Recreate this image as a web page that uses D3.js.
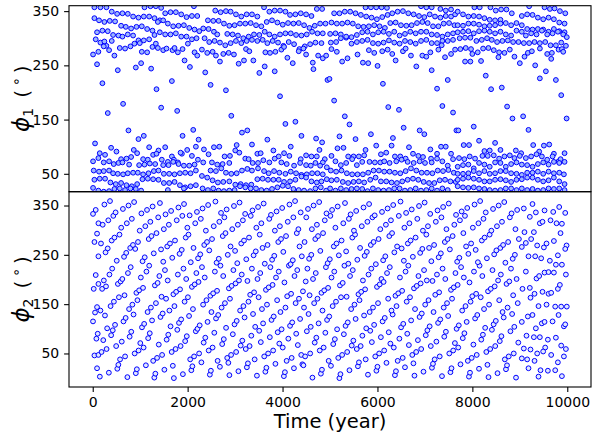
<!DOCTYPE html>
<html><head><meta charset="utf-8">
<script src="https://cdn.jsdelivr.net/npm/d3@7"></script>
<style>body{margin:0;background:#fff}svg{display:block}text{font-family:"DejaVu Sans",sans-serif}</style>
</head><body><svg id="c" width="594" height="433"></svg>
<script>
const xTicks=[0,2000,4000,6000,8000,10000];
const yTicks=[50,150,250,350];
// phi1 (top panel) [year, deg]
const phi1A=[[35,357],[162,357],[288,357],[35,337],[133,333],[246,330],[359,332],[471,331],
[401,349],[514,345],[626,346],[739,345],[851,340],[964,338],[1076,340],[1189,340],[1302,337],[1414,333],[1527,346],[1639,348],[1752,348],[1865,344],[1977,339],[2090,341],[2203,341],
[1091,357],[1217,359],[1330,359],[1442,356],[2132,359],
[91,311],[204,314],[317,313],[429,306],[542,305],[598,323],[697,321],[809,318],[922,321],[1034,322],[1147,317],[1259,314],[1372,330],[1485,333],[1583,327],[1696,322],[1808,323],[1921,324],[2034,319],[2146,316],[2245,313],
[63,298],[162,292],[246,294],[288,286],[401,295],[626,303],[739,307],[851,305],[964,296],[1076,296],[1189,298],[1302,306],[1414,311],[1527,307],[1639,307],[1752,309],[1865,303],[1977,303],[2090,298],[2188,300],
[7,270],[119,275],[232,285],[345,278],[457,268],[570,282],[682,281],[795,285],[879,290],[992,291],[1034,275],[1147,274],[1259,284],[1330,290],[1372,282],[1485,278],[1555,281],[1682,278],[1724,282],[1794,274],[1893,280],[2005,290],[2146,274],[2203,268],
[91,252],[528,241],[908,246],[1020,254],[1231,244],[1935,259],[2048,247],
[204,217],[1344,206],[1668,221],[640,179],[317,162],[1442,172],[1780,166],[753,130],[964,114],[1076,120],[1893,120],[2118,131],[2231,113],
[49,106],[387,98],[500,91],[865,94],[936,88],[1189,99],[1386,93],[1527,99],[1668,82],[1879,87],[1991,94],[2090,83],[2174,100],
[148,88],[260,85],[119,79],[598,77],[711,78],[809,81],[1062,77],[1161,76],[1273,85],[1344,87],[1456,76],[1583,72],[1710,76],[1794,71],[1851,89],
[7,73],[232,71],[345,73],[443,68],[542,70],[626,71],[767,67],[978,66],[1091,67],[1203,69],[1316,68],[1485,66],[1597,66],[1696,72],[1808,68],[1921,65],[2034,65],[2146,67],[2217,76],
[21,56],[133,54],[232,55],[345,56],[429,51],[528,50],[640,49],[739,51],[851,52],[950,52],[1062,49],[1175,51],[1288,55],[1386,56],[1499,50],[1611,50],[1724,49],[1837,51],[1949,52],[2062,51],[2174,56],
[35,39],[148,41],[260,41],[373,34],[485,31],[598,33],[711,29],[823,27],[936,31],[1048,40],[1161,41],[1273,40],[1386,39],[1499,33],[1611,33],[1724,35],[1837,29],[1949,25],[2062,27],[2174,29],
[7,24],[119,19],[232,17],[345,18],[457,22],[570,23],[682,20],[795,23],[908,22],[1020,19],[1583,20],[1921,23]];
const phi1B=[[2582,351],[2695,348],[2807,350],[2906,349],[3018,344],[3131,340],[3244,344],[3356,344],[3469,340],[3610,357],[3722,349],[3835,351],[3947,351],[4060,349],[4158,343],[4271,344],[4384,346],[4496,344],[4609,341],[4722,354],[4834,354],
[2427,333],[2540,332],[2653,332],[2765,327],[2878,323],[2990,324],[3103,327],[3215,327],[3328,328],[3441,324],[3553,322],[3666,330],[3778,333],[3891,329],[4004,325],[4116,328],[4229,327],[4341,328],[4454,324],[4567,319],[4679,323],[4792,327],[4905,327],
[2329,318],[2441,317],[2554,312],[2624,307],[2835,308],[2948,307],[3061,305],[3173,300],[3286,303],[3398,307],[3511,306],[3624,312],[3722,307],[3835,303],[3947,307],[4060,309],[4173,309],[4285,306],[4398,305],[4510,307],[4623,312],[4736,309],[4848,309],
[2357,300],[2455,293],[2568,295],[2681,292],[2793,287],[2906,291],[3018,295],[3131,291],[3244,295],[3356,297],[3469,295],[3581,297],[3680,291],[3792,295],[3905,292],[4018,286],[4130,293],[4243,289],[4355,280],[4468,285],[4581,289],[4693,292],[4820,291],
[2301,279],[2413,273],[2526,275],[2596,268],[2681,257],[2751,271],[2864,273],[2976,270],[3230,280],[3300,276],[3385,259],[3638,274],[3736,273],[3849,275],[3975,279],[4032,284],[4102,264],[4215,254],[4341,276],[4440,281],[4496,270],[4637,255],[4750,268],[4848,263],[4919,268],
[3075,253],[3187,259],[3511,236],[3624,248],[3835,239],[2371,237],[4651,243],[2484,214],[2807,204],[3947,193],[4947,223],[2920,157],[4060,142],[4271,146],[3145,126],[3258,130],[4398,120],[4707,115],[4834,108],
[3680,113],[2343,95],[2554,99],[2667,100],[3033,103],[3356,104],[3807,93],[4173,100],[4496,84],[4778,94],
[2441,86],[2892,83],[2779,82],[3004,93],[3089,89],[3469,87],[3539,88],[3919,82],[4032,88],[4144,83],[4384,77],[4609,82],[4722,82],[4890,77],[4848,71],
[2329,71],[2512,71],[2624,67],[2737,68],[2878,70],[3215,78],[3286,77],[3370,70],[3483,70],[3595,75],[3722,71],[3835,78],[3975,71],[4088,68],[4243,65],[4370,70],[4496,66],[4595,65],[4693,70],[4792,65],[4933,62],
[2484,56],[2596,55],[2709,60],[2807,52],[2920,50],[3033,51],[3145,56],[3258,59],[3356,56],[3483,60],[3610,55],[3708,51],[3821,55],[3933,52],[4060,50],[4173,54],[4285,51],[4398,48],[4510,49],[4623,51],[4736,51],[4848,49],
[2301,46],[2413,43],[2526,38],[2638,34],[2751,35],[2878,36],[3004,30],[3117,31],[3230,29],[3342,30],[3469,40],[3581,41],[3694,39],[3807,39],[3919,39],[4032,35],[4158,36],[4271,39],[4398,45],[4496,43],[4609,36],[4722,34],[4820,36],[4933,40],
[2315,23],[2427,20],[2540,23],[2653,19],[2765,18],[2878,19],[2990,20],[3103,27],[3215,25],[3328,23],[3441,23],[3553,20],[3666,19],[3778,22],[3891,25],[4004,28],[4116,27],[4229,22],[4341,20],[4454,19],[4581,18],[4693,23],[4806,25],[4919,19]];
const phi1C=[[5749,357],[5862,357],[5974,357],[6087,357],[6200,356],[6918,359],[7030,357],[7143,357],[7326,354],[7439,351],[7551,353],
[5087,346],[5200,346],[5312,349],[5425,349],[5538,346],[5650,343],[5763,340],[5876,338],[5988,335],[6101,339],[6214,343],[6312,346],[6425,349],[6537,350],[6650,346],[6763,344],[6875,341],[6988,339],[7101,344],[7213,340],[7326,338],[7439,341],[7551,340],[7636,344],
[5031,329],[5144,327],[5256,327],[5369,329],[5481,327],[5594,322],[5707,321],[5819,322],[5932,324],[6045,322],[6157,319],[6270,328],[6383,329],[6495,324],[6608,323],[6720,324],[6833,328],[6946,330],[7058,328],[7171,322],[7284,322],[7396,327],[7509,328],[7622,324],
[5003,308],[5115,309],[5228,307],[5341,301],[5453,302],[5566,306],[5679,311],[5791,312],[5904,307],[6016,311],[6129,312],[6242,308],[6354,312],[6467,305],[6580,308],[6692,312],[6805,309],[6918,312],[7030,312],[7143,307],[7256,306],[7368,303],[7481,307],[7593,309],
[5017,292],[5129,293],[5228,300],[5341,303],[5453,290],[5566,293],[5679,295],[5791,297],[5904,291],[6016,290],[6129,292],[6242,296],[6354,292],[6467,290],[6580,295],[6692,293],[6805,290],[6918,295],[7030,297],[7143,291],[7256,291],[7368,295],[7481,295],[7593,297],
[5031,280],[5144,275],[5256,257],[5369,263],[5580,270],[5693,255],[5805,254],[5819,278],[5932,273],[6002,249],[6101,276],[6214,279],[6312,271],[6383,259],[6537,276],[6594,281],[6706,268],[6819,248],[6946,268],[7030,266],[7115,274],[7143,241],[7284,279],[7354,287],[7424,265],[7551,271],[7636,279],
[4989,225],[5087,185],[6115,216],[6228,173],[6453,168],[7256,207],[7368,175],[7481,223],[7593,163],[5312,156],[5411,141],[6552,135],[6889,130],[6988,123],[5200,119],[5538,114],[5862,123],[6326,116],[7664,130],
[5158,97],[5284,98],[5749,94],[5974,102],[6298,102],[6664,99],[7115,95],[7340,100],[7439,100],[7551,87],
[5031,83],[5383,82],[5496,82],[5608,82],[5721,84],[6073,86],[6185,89],[6368,82],[6481,82],[6594,78],[6749,87],[6861,83],[6960,81],[7129,78],[7256,87],
[5115,73],[5228,66],[5341,70],[5467,77],[5566,66],[5679,72],[5833,72],[5946,71],[6059,71],[6143,73],[6256,70],[6397,73],[6509,76],[6636,72],[6763,70],[6889,73],[7002,70],[7143,71],[7256,78],[7368,73],[7481,65],[7593,77],
[5017,56],[5129,54],[5242,56],[5355,51],[5467,49],[5580,49],[5693,49],[5805,52],[5918,56],[6031,56],[6143,54],[6256,54],[6368,52],[6481,51],[6594,55],[6706,60],[6819,56],[6932,52],[7044,52],[7157,51],[7270,56],[7382,55],[7495,57],[7608,52],
[5031,38],[5144,39],[5270,35],[5383,33],[5496,35],[5608,36],[5721,34],[5848,39],[5960,43],[6073,36],[6185,36],[6298,34],[6411,33],[6523,36],[6636,39],[6749,41],[6861,39],[6974,35],[7087,33],[7199,33],[7312,38],[7424,39],[7537,36],[7650,35],
[5003,23],[5115,19],[5228,23],[5341,20],[5453,22],[5566,23],[5679,22],[5791,18],[5904,23],[6016,20],[6129,19],[6242,20],[6354,23],[6467,23],[6580,19],[6692,20],[6805,23],[6918,19],[7030,20],[7143,23],[7256,19],[7368,23],[7481,20]];
const phi1D=[[8043,357],[8155,357],[8381,357],[8493,351],[8606,353],[8718,353],[8831,346],[9197,359],[9521,357],[9634,354],[9732,355],[9845,350],[9958,346],
[7691,349],[7803,344],[7916,340],[8029,341],[8141,340],[8254,337],[8366,334],[8479,333],[8592,334],[8704,328],[8817,324],[8930,328],[9042,341],[9155,344],[9268,343],[9380,338],[9493,335],[9606,338],[9718,335],[9831,329],[9943,327],
[7691,324],[7803,323],[7916,327],[8029,327],[8141,325],[8254,322],[8366,323],[8479,324],[8592,327],[9042,324],[9155,317],[9268,316],[9380,317],[9493,316],[9606,312],[9718,317],[9831,313],[9943,311],
[7691,311],[7803,312],[7916,313],[8029,309],[8141,313],[8254,314],[8366,312],[8479,309],[8592,312],[8704,307],[8817,305],[8930,314],[9042,312],[9127,305],[9239,309],[9352,307],[9465,314],[9577,307],[9690,309],[9803,312],[9915,307],[9990,302],
[7733,300],[7846,301],[7958,301],[8085,295],[8198,297],[8310,300],[8409,297],[8521,293],[8634,295],[8747,296],[8859,293],[8972,293],[9085,291],[9197,291],[9310,293],[9422,291],[9535,293],[9648,287],[9760,287],[9873,292],[9972,286],
[7747,280],[7860,282],[7972,280],[8000,271],[8113,274],[8226,281],[8338,282],[8451,278],[8564,274],[8676,273],[8789,279],[8887,266],[9000,254],[9099,266],[9169,273],[9254,276],[9324,250],[9423,281],[9577,271],[9676,273],[9662,262],[9817,279],[9887,280],[9915,275],
[7846,257],[7958,257],[8183,258],[8549,265],
[8282,231],[8395,206],[8620,209],[9422,226],[9549,239],[9760,223],[9873,195],[8732,174],[8845,152],[9070,156],[9183,131],[9986,152],[7705,130],[8029,137],[8141,111],
[7817,103],[7930,103],[8254,92],[8366,93],[8479,107],[8592,94],[8916,93],[9028,88],[9282,103],[9408,91],[9507,102],[9620,104],[9718,87],[9943,88],
[7719,79],[7831,77],[7944,82],[8057,78],[8212,83],[8324,83],[8451,84],[8564,78],[8676,82],[8789,84],[8887,79],[9000,83],[9127,79],[9239,82],[9352,86],[9465,82],[9577,76],[9690,82],[9817,73],[9859,77],
[7691,63],[7803,66],[7916,67],[8029,60],[8141,70],[8254,67],[8366,63],[8479,71],[8592,70],[8704,63],[8817,68],[8930,71],[9042,67],[9155,66],[9268,63],[9380,68],[9493,71],[9606,67],[9718,72],[9831,70],[9943,72],
[7691,50],[7803,50],[7916,51],[8029,55],[8141,51],[8254,55],[8366,50],[8479,51],[8592,55],[8704,55],[8817,51],[8930,50],[9042,48],[9155,52],[9268,52],[9380,54],[9493,50],[9606,54],[9718,51],[9831,52],[9929,49],
[7691,39],[7803,41],[7916,43],[8029,41],[8141,39],[8254,36],[8366,36],[8479,39],[8592,40],[8704,38],[8817,35],[8930,39],[9042,40],[9155,43],[9268,43],[9380,39],[9493,36],[9606,38],[9718,43],[9831,36],[9943,31],
[7691,27],[7803,25],[7916,24],[8029,25],[8141,23],[8254,22],[8366,20],[8479,19],[8592,20],[8704,23],[8817,23],[8930,20],[9042,23],[9155,20],[9268,22],[9380,19],[9493,20],[9606,23],[9718,22],[9831,23],[9943,20]];
// phi2 (bottom panel) [year, deg] read at the panel edges
const phi2Left=[[6,333],[63,341],[120,314],[36,276],[91,293],[120,247],[63,209],[21,181],[120,191],[91,144],[49,133],[6,115],[105,90],[77,80],[36,46],[120,47],[91,20]];
const phi2Right=[[9084,344],[9267,353],[9338,336],[9521,340],[9704,337],[9830,347],[9957,335],[9211,327],[9422,314],[9478,317],[9647,320],[9774,314],[9887,313],[9296,296],[9098,296],[9858,294],[9239,282],[9127,274],[9366,269],[9507,265],[9563,273],[9718,278],[9985,269],[9957,262],[9042,266],[9183,247],[9324,247],[9450,243],[9633,238],[9802,249],[9760,230],[9887,230],[9127,216],[9352,202],[9408,207],[9521,214],[9605,215],[9718,214],[9971,210],
[9056,181],[9211,183],[9478,175],[9605,171],[9661,173],[9802,181],[9844,189],[9225,163],[9310,171],[9394,146],[9563,149],[9746,145],[9872,145],[9990,145],[9042,114],[9169,125],[9267,128],[9338,101],[9464,111],[9521,114],[9690,115],[9816,128],[9929,105],[9957,109],[9141,86],[9296,83],[9422,83],[9591,78],[9760,82],[9872,66],[9971,59],[9084,60],[9225,58],[9366,50],[9535,62],[9492,54],[9661,47],[9802,32],[9929,44],[9042,40],[9155,38],[9183,20],[9310,35],[9394,3],[9436,16],[9591,15],[9746,16],[9887,4]];
// phi2 middle: columns [startYear, eleven angle estimates]; sample offsets within a column (years)
const colOffsetsA=[0,36,72,108,12,48,84,120,24,60,96];
const colOffsetsB=[60,12,108,24,96,0,72,36,120,48,84];
const colOffsetsC=[108,84,12,60,36,120,0,96,48,24,72];
const phi2Cols=[
[150,3,53,77,127,137,181,198,255,273,311,352],
[280,11,59,87,101,146,186,210,263,279,320,359],
[410,19,65,97,108,155,191,222,238,285,329,336],
[540,27,38,74,115,164,196,201,246,291,305,343],
[670,2,44,84,122,140,168,213,254,264,314,350],
[800,10,50,94,129,149,173,225,262,270,323,357],
[930,18,56,71,103,158,178,204,237,276,299,334],
[1060,26,62,81,110,134,183,216,245,282,308,341],
[1190,1,35,91,117,143,188,228,253,288,317,348],
[1320,9,41,68,124,152,193,207,261,294,326,355],
[1450,17,47,78,131,161,165,219,236,267,302,332],
[1580,25,53,88,105,137,170,198,244,273,311,339],
[1710,0,59,98,112,146,175,210,252,279,320,346],
[1840,8,65,75,119,155,180,222,260,285,329,353],
[1970,16,38,85,126,164,185,201,235,291,305,330],
[2100,24,44,95,100,140,190,213,243,264,314,337],
[2230,32,50,72,107,149,195,225,251,270,323,344],
[2360,7,56,82,114,158,167,204,259,276,299,351],
[2490,15,62,92,121,134,172,216,234,282,308,358],
[2620,23,35,69,128,143,177,228,242,288,317,335],
[2750,31,41,79,102,152,182,207,250,294,326,342],
[2880,6,47,89,109,161,187,219,258,267,302,349],
[3010,14,53,66,116,137,192,198,233,273,311,356],
[3140,22,59,76,123,146,197,210,241,279,320,333],
[3270,30,65,86,130,155,169,222,249,285,329,340],
[3400,5,38,96,104,164,174,201,257,291,305,347],
[3530,13,44,73,111,140,179,213,232,264,314,354],
[3660,21,50,83,118,149,184,225,240,270,323,331],
[3790,29,56,93,125,158,189,204,248,276,299,338],
[3920,4,62,70,99,134,194,216,256,282,308,345],
[4050,12,35,80,106,143,166,228,231,288,317,352],
[4180,20,41,90,113,152,171,207,239,294,326,359],
[4310,28,47,67,120,161,176,219,247,267,302,336],
[4440,26,44,95,130,143,196,222,242,276,326,343],
[4570,1,50,72,104,152,168,201,250,282,302,350],
[4700,9,56,82,111,161,173,213,258,288,311,357],
[4830,17,62,92,118,137,178,225,233,294,320,334],
[4960,25,35,69,125,146,183,204,241,267,329,341],
[5090,0,41,79,99,155,188,216,249,273,305,348],
[5220,8,47,89,106,164,193,228,257,279,314,355],
[5350,16,53,66,113,140,165,207,232,285,323,332],
[5480,24,59,76,120,149,170,219,240,291,299,339],
[5610,32,65,86,127,158,175,198,248,264,308,346],
[5740,7,38,96,101,134,180,210,256,270,317,353],
[5870,15,44,73,108,143,185,222,231,276,326,330],
[6000,23,50,83,115,152,190,201,239,282,302,337],
[6130,31,56,93,122,161,195,213,247,288,311,344],
[6260,6,62,70,129,137,167,225,255,294,320,351],
[6390,14,35,80,103,146,172,204,263,267,329,358],
[6520,22,41,90,110,155,177,216,238,273,305,335],
[6650,30,47,67,117,164,182,228,246,279,314,342],
[6780,5,53,77,124,140,187,207,254,285,323,349],
[6910,13,59,87,131,149,192,219,262,291,299,356],
[7040,21,65,97,105,158,197,198,237,264,308,333],
[7170,29,38,74,112,134,169,210,245,270,317,340],
[7300,4,44,84,119,143,174,222,253,276,326,347],
[7430,12,50,94,126,152,179,201,261,282,302,354],
[7560,20,56,71,100,161,184,213,236,288,311,331],
[7690,28,62,81,107,137,189,225,244,294,320,338],
[7820,3,35,91,114,146,194,204,252,267,329,345],
[7950,11,41,68,121,155,166,216,260,273,305,352],
[8080,19,47,78,128,164,171,228,235,279,314,359],
[8210,27,53,88,102,140,176,207,243,285,323,336],
[8340,2,59,98,109,149,181,219,251,291,299,343],
[8470,10,65,75,116,158,186,198,259,264,308,350],
[8600,18,38,85,123,134,191,210,234,270,317,357],
[8730,26,44,95,130,143,196,222,242,276,326,334],
[8860,1,50,72,104,152,168,201,250,282,302,341]];

const phi1=[].concat(phi1A,phi1B,phi1C,phi1D);
const offsetSets=[colOffsetsA,colOffsetsB,colOffsetsC];
const phi2Mid=[];
phi2Cols.forEach((c,i)=>{const off=offsetSets[i%3];c.slice(1).forEach((v,j)=>phi2Mid.push([c[0]+off[j],v]));});
const phi2=[].concat(phi2Left,phi2Mid,phi2Right);

const svg=d3.select("#c");
svg.append("rect").attr("width",594).attr("height",433).attr("fill","#fff");
const L=69,R=591,T1=5.7,B1=191.7,T2=191.7,B2=387;
const x=d3.scaleLinear().domain([-500,10500]).range([L,R]);
const y1=d3.scaleLinear().domain([17,360]).range([B1,T1]);
const y2=d3.scaleLinear().domain([-18,378]).range([B2,T2]);
const defs=svg.append("defs");
defs.append("clipPath").attr("id","cp1").append("rect").attr("x",L).attr("y",T1).attr("width",R-L).attr("height",B1-T1);
defs.append("clipPath").attr("id","cp2").append("rect").attr("x",L).attr("y",T2).attr("width",R-L).attr("height",B2-T2);

function drawPts(data,ys,clip,fill){
  svg.append("g").attr("clip-path","url(#"+clip+")")
    .selectAll("circle").data(data).join("circle")
    .attr("cx",d=>x(d[0])).attr("cy",d=>ys(d[1])).attr("r",2.4)
    .attr("fill",fill).attr("stroke","#0000ff").attr("stroke-width",1);
}
drawPts(phi1,y1,"cp1","#9db6ff");
drawPts(phi2,y2,"cp2","#dfe7ff");

function yAxis(ys){
  const g=svg.append("g").attr("transform","translate("+L+",0)")
    .call(d3.axisLeft(ys).tickValues(yTicks).tickSize(4.9).tickPadding(4.9).tickFormat(d3.format("d")));
  g.select(".domain").remove();
  g.selectAll("text").attr("font-size",14).attr("font-family","DejaVu Sans").attr("fill","#000");
  g.selectAll("line").attr("stroke","#000").attr("stroke-width",1.1);
}
yAxis(y1);yAxis(y2);
const gx=svg.append("g").attr("transform","translate(0,"+B2+")")
  .call(d3.axisBottom(x).tickValues(xTicks).tickSize(4.9).tickPadding(4.9).tickFormat(d3.format("d")));
gx.select(".domain").remove();
gx.selectAll("text").attr("font-size",14).attr("font-family","DejaVu Sans").attr("fill","#000");
gx.selectAll("line").attr("stroke","#000").attr("stroke-width",1.1);

svg.append("rect").attr("x",L).attr("y",T1).attr("width",R-L).attr("height",B1-T1).attr("fill","none").attr("stroke","#000").attr("stroke-width",1.1);
svg.append("rect").attr("x",L).attr("y",T2).attr("width",R-L).attr("height",B2-T2).attr("fill","none").attr("stroke","#000").attr("stroke-width",1.1);

svg.append("text").attr("x",(L+R)/2).attr("y",428).attr("text-anchor","middle").attr("font-size",19.5).text("Time (year)");

function yLabel(cy,sub){
  const t=svg.append("text").attr("transform","translate(29,"+cy+") rotate(-90)").attr("text-anchor","middle").attr("font-size",20);
  t.append("tspan").attr("font-style","italic").attr("font-size",23).text("\u03d5");
  t.append("tspan").attr("font-size",14).attr("dy",4).text(sub);
  t.append("tspan").attr("dy",-4).text("\u2002(\u2009");
  t.append("tspan").attr("font-size",14).attr("dy",-8).text("\u2218");
  t.append("tspan").attr("dy",8).text("\u2009)");
}
yLabel((T1+B1)/2,"1");
yLabel((T2+B2)/2,"2");
</script></body></html>
